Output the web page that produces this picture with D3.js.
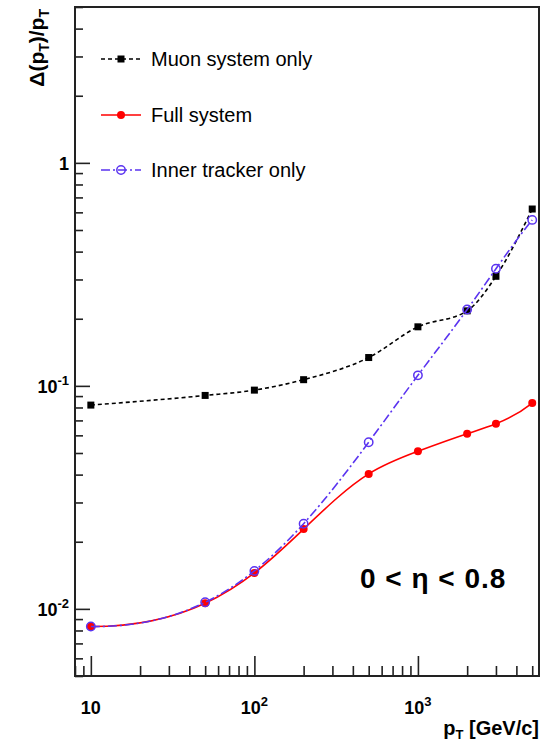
<!DOCTYPE html>
<html>
<head>
<meta charset="utf-8">
<script src="https://cdn.jsdelivr.net/npm/d3@7"></script>
<style>
  body { margin: 0; background: #fff; }
  svg { font-family: "Liberation Sans", Arial, sans-serif; }
</style>
</head>
<body>
<div id="chart"></div>
<script>
// data
const ptValues = [10, 50, 100, 200, 500, 1000, 2000, 3000, 5000];
const muonOnly = [0.082, 0.0906, 0.0957, 0.1066, 0.134, 0.184, 0.217, 0.31, 0.621];
const fullSystem = [0.00833, 0.0106, 0.0145, 0.0228, 0.0403, 0.0509, 0.061, 0.0676, 0.0837];
const innerTracker = [0.00833, 0.0107, 0.0148, 0.0241, 0.0559, 0.1115, 0.22, 0.335, 0.555];
const xMajorTicks = [10, 100, 1000];
const yMajorTicks = [0.01, 0.1, 1];
const xTickLabels = [["10", ""], ["10", "2"], ["10", "3"]];
const yTickLabels = [["10", "-2"], ["10", "-1"], ["1", ""]];

const width = 547, height = 745;
const margin = { top: 7, right: 8, bottom: 69, left: 75 };

const svg = d3.select('#chart')
  .append('svg')
  .attr('width', width)
  .attr('height', height);

const x = d3.scaleLog().domain([8, 5500]).range([margin.left, width - margin.right]);
const y = d3.scaleLog().domain([0.005, 5]).range([height - margin.bottom, margin.top]);

// minor ticks
const minorTicks = (lo, hi) => {
  let out = [];
  for (let e = -4; e <= 4; e++) {
    for (let m = 1; m < 10; m++) {
      let v = m * Math.pow(10, e);
      if (v >= lo && v <= hi && m !== 1) out.push(v);
    }
  }
  return out;
};

const xAxisMajor = d3.axisBottom(x).tickValues(xMajorTicks).tickFormat('').tickSizeInner(-20).tickSizeOuter(0);
const xAxisMinor = d3.axisBottom(x).tickValues(minorTicks(8, 5500)).tickFormat('').tickSizeInner(-10).tickSizeOuter(0);
const yAxisMajor = d3.axisLeft(y).tickValues(yMajorTicks).tickFormat('').tickSizeInner(-15).tickSizeOuter(0);
const yAxisMinor = d3.axisLeft(y).tickValues(minorTicks(0.005, 5)).tickFormat('').tickSizeInner(-8).tickSizeOuter(0);

const bottomY = height - margin.bottom;
[xAxisMinor, xAxisMajor].forEach(ax => {
  svg.append('g').attr('transform', `translate(0,${bottomY})`).call(ax)
    .call(g => g.select('.domain').remove())
    .selectAll('line').attr('stroke', '#222').attr('stroke-width', 1.6);
});
[yAxisMinor, yAxisMajor].forEach(ax => {
  svg.append('g').attr('transform', `translate(${margin.left},0)`).call(ax)
    .call(g => g.select('.domain').remove())
    .selectAll('line').attr('stroke', '#222').attr('stroke-width', 1.6);
});

// frame
svg.append('rect')
  .attr('x', margin.left).attr('y', margin.top)
  .attr('width', width - margin.left - margin.right)
  .attr('height', height - margin.top - margin.bottom)
  .attr('fill', 'none').attr('stroke', '#222').attr('stroke-width', 2);

// tick labels
xMajorTicks.forEach((v, i) => {
  let t = svg.append('text')
    .attr('x', x(v)).attr('y', 714)
    .attr('text-anchor', 'middle')
    .attr('font-size', 18).attr('font-weight', 'bold');
  t.append('tspan').text(xTickLabels[i][0]);
  if (xTickLabels[i][1]) t.append('tspan').attr('dy', -8).attr('font-size', 13).text(xTickLabels[i][1]);
});
yMajorTicks.forEach((v, i) => {
  let t = svg.append('text')
    .attr('x', 69).attr('y', y(v) + 7)
    .attr('text-anchor', 'end')
    .attr('font-size', 18).attr('font-weight', 'bold');
  t.append('tspan').text(yTickLabels[i][0]);
  if (yTickLabels[i][1]) t.append('tspan').attr('dy', -8).attr('font-size', 13).text(yTickLabels[i][1]);
});

// axis titles
let xt = svg.append('text')
  .attr('x', width - margin.right).attr('y', 735)
  .attr('text-anchor', 'end')
  .attr('font-size', 20).attr('font-weight', 'bold');
xt.append('tspan').text('p');
xt.append('tspan').attr('dy', 4).attr('font-size', 13).text('T');
xt.append('tspan').attr('dy', -4).text(' [GeV/c]');

let yt = svg.append('text')
  .attr('transform', 'translate(44,9) rotate(-90)')
  .attr('text-anchor', 'end')
  .attr('font-size', 21).attr('font-weight', 'bold');
yt.append('tspan').text('Δ(p');
yt.append('tspan').attr('dy', 5).attr('font-size', 14).text('T');
yt.append('tspan').attr('dy', -5).text(')/p');
yt.append('tspan').attr('dy', 5).attr('font-size', 14).text('T');

// smooth curve: cubic spline with not-a-knot ends, drawn as beziers
function SplineCurve(context) { this._context = context; }
SplineCurve.prototype = {
  areaStart() {}, areaEnd() {},
  lineStart() { this._x = []; this._y = []; },
  point(px, py) { this._x.push(+px); this._y.push(+py); },
  lineEnd() {
    const X = this._x, Y = this._y, n = X.length, ctx = this._context;
    if (!n) return;
    ctx.moveTo(X[0], Y[0]);
    if (n < 4) { for (let i = 1; i < n; i++) ctx.lineTo(X[i], Y[i]); return; }
    const h = d3.range(n - 1).map(i => X[i + 1] - X[i]);
    const A = d3.range(n).map(() => new Array(n + 1).fill(0));
    A[0][0] = h[1]; A[0][1] = -(h[0] + h[1]); A[0][2] = h[0];
    for (let i = 1; i < n - 1; i++) {
      A[i][i - 1] = h[i - 1]; A[i][i] = 2 * (h[i - 1] + h[i]); A[i][i + 1] = h[i];
      A[i][n] = 6 * ((Y[i + 1] - Y[i]) / h[i] - (Y[i] - Y[i - 1]) / h[i - 1]);
    }
    A[n - 1][n - 3] = h[n - 2]; A[n - 1][n - 2] = -(h[n - 3] + h[n - 2]); A[n - 1][n - 1] = h[n - 3];
    for (let c = 0; c < n; c++) {
      let p = c;
      for (let r = c + 1; r < n; r++) if (Math.abs(A[r][c]) > Math.abs(A[p][c])) p = r;
      [A[c], A[p]] = [A[p], A[c]];
      for (let r = 0; r < n; r++) {
        if (r === c) continue;
        const f = A[r][c] / A[c][c];
        for (let k = c; k <= n; k++) A[r][k] -= f * A[c][k];
      }
    }
    const M = d3.range(n).map(i => A[i][n] / A[i][i]);
    const m = d3.range(n).map(i => i < n - 1
      ? (Y[i + 1] - Y[i]) / h[i] - h[i] * (2 * M[i] + M[i + 1]) / 6
      : (Y[n - 1] - Y[n - 2]) / h[n - 2] + h[n - 2] * (M[n - 2] + 2 * M[n - 1]) / 6);
    for (let i = 0; i < n - 1; i++) {
      const d = h[i] / 3;
      ctx.bezierCurveTo(X[i] + d, Y[i] + m[i] * d, X[i + 1] - d, Y[i + 1] - m[i + 1] * d, X[i + 1], Y[i + 1]);
    }
  }
};
const curveSpline = context => new SplineCurve(context);

// series
const series = [
  { name: 'Muon system only', values: muonOnly, color: '#000', dash: '4,3', marker: 'square', curve: d3.curveMonotoneX },
  { name: 'Full system', values: fullSystem, color: '#ff0000', dash: null, marker: 'dot', curve: curveSpline },
  { name: 'Inner tracker only', values: innerTracker, color: '#5a33f0', dash: '9,3,2,3', marker: 'open', curve: curveSpline }
];

const drawMarker = (g, kind, color, cx, cy) => {
  if (kind === 'square') {
    g.append('rect').attr('x', cx - 3.5).attr('y', cy - 3.5).attr('width', 7).attr('height', 7).attr('fill', color);
  } else if (kind === 'dot') {
    g.append('circle').attr('cx', cx).attr('cy', cy).attr('r', 4).attr('fill', color);
  } else {
    g.append('circle').attr('cx', cx).attr('cy', cy).attr('r', 4.2)
      .attr('fill', 'none').attr('stroke', color).attr('stroke-width', 1.5);
  }
};

series.forEach(s => {
  let pts = ptValues.map((p, i) => [p, s.values[i]]);
  let line = d3.line()
    .x(d => x(d[0]))
    .y(d => y(d[1]))
    .curve(s.curve);
  let g = svg.append('g');
  g.append('path')
    .attr('d', line(pts))
    .attr('fill', 'none')
    .attr('stroke', s.color)
    .attr('stroke-width', 1.6)
    .attr('stroke-dasharray', s.dash);
  pts.forEach(d => drawMarker(g, s.marker, s.color, x(d[0]), y(d[1])));
});

// legend
const legendY = [59, 115, 170];
series.forEach((s, i) => {
  let g = svg.append('g');
  g.append('line')
    .attr('x1', 101).attr('x2', 141)
    .attr('y1', legendY[i]).attr('y2', legendY[i])
    .attr('stroke', s.color).attr('stroke-width', 1.6)
    .attr('stroke-dasharray', s.dash);
  drawMarker(g, s.marker, s.color, 121, legendY[i]);
  g.append('text')
    .attr('x', 151).attr('y', legendY[i] + 7)
    .attr('font-size', 20)
    .text(s.name);
});

// eta range label
svg.append('text')
  .attr('x', 360).attr('y', 588)
  .attr('font-size', 28).attr('font-weight', 'bold')
  .attr('letter-spacing', 1)
  .text('0 < η < 0.8');
</script>
</body>
</html>
